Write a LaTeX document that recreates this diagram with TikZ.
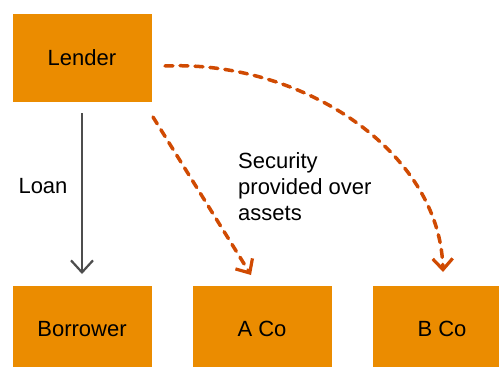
\documentclass[tikz,border=0pt]{standalone}
\usepackage{fontspec}
\setmainfont{Liberation Sans}
\usepackage{xcolor}
\usetikzlibrary{arrows.meta}
\definecolor{boxorange}{HTML}{EB8C00}
\definecolor{secorange}{HTML}{D04A02}
\definecolor{loangray}{HTML}{4D4D4D}

\begin{document}
\begin{tikzpicture}
			[x=1pt,y=-1pt,font=\fontsize{22}{26}\selectfont,
			 party/.style={rectangle,fill=boxorange,minimum width=139pt,inner sep=0pt},
			 loan/.style={draw=loangray,line width=2.2pt,-{Straight Barb[length=12pt,width=22pt,line width=2.2pt]}},
			 security/.style={draw=secorange,line width=3.5pt,dash pattern=on 8pt off 7pt,line cap=round,
			   -{Straight Barb[length=11pt,width=20pt,line width=3.2pt]}}]
				\useasboundingbox (0,0) rectangle (499,367);
				\node [party,minimum height=88pt] (lender) at (82,58) {Lender};
				\node [party,minimum height=86pt] (borrower) at (82,329) {Borrower};
				\node [party,minimum height=86pt] (aco) at (262,329) {A Co};
				\node [party,minimum height=86pt] (bco) at (442,329) {B Co};
				\coordinate (l1) at (82,113);
				\coordinate (b1) at (82,274);
				\coordinate (l2) at (153,117);
				\coordinate (a1) at (251,275);
				\coordinate (l3) at (165,66);
				\coordinate (c1) at (443,272);
				\node (loanlbl) at (43,186) {Loan};
				\node [anchor=west,align=left,inner sep=0pt] (seclbl) at (238,187) {Security\\provided over\\assets};
				\draw[loan] (l1) -- (b1);
				\draw[security] (l2) -- (a1);
				\draw[security] (l3) .. controls (300,60) and (440,150) .. (c1);
			\end{tikzpicture}
\end{document}
